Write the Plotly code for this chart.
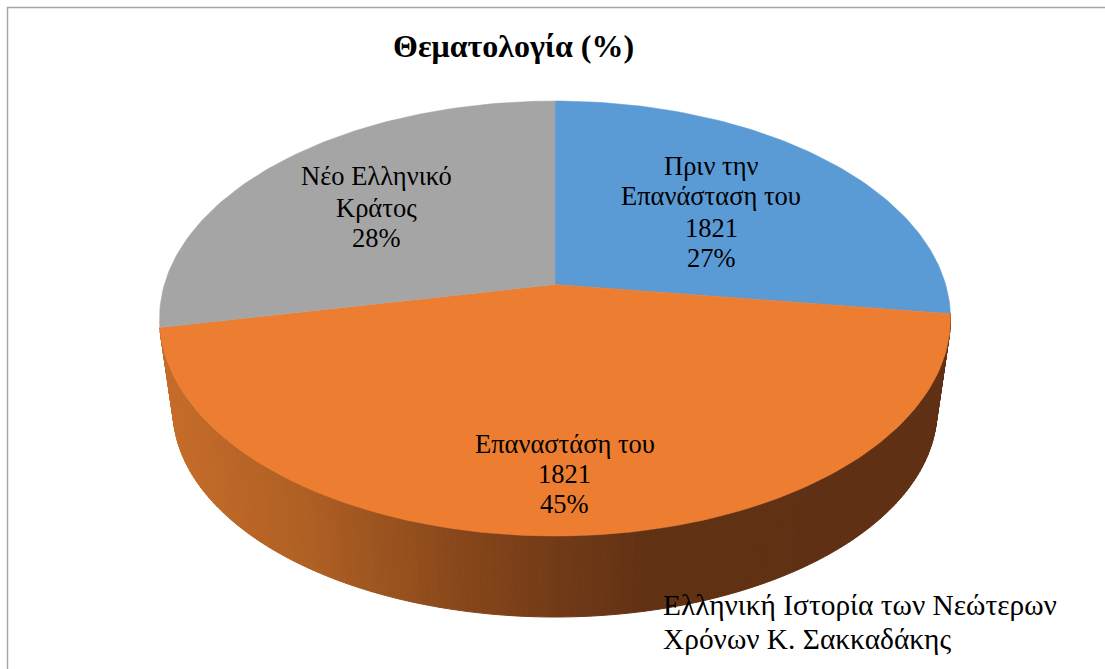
import math
import plotly.graph_objects as go

# ---- data ----
categories = [["Πριν την", "Επανάσταση του", "1821"], ["Επαναστάση του", "1821"], ["Νέο Ελληνικό", "Κράτος"]]
values = [27, 45, 28]
colors = ["#5B9BD5", "#ED7D31", "#A5A5A5"]
title_text = "Θεματολογία (%)"
note_text = ["Ελληνική Ιστορία των Νεώτερων", "Χρόνων Κ. Σακκαδάκης"]

# ---- geometry of the drawing (pixel-scaled axes) ----
W, H = 1105, 669
CX = 555
TOP = dict(cy=318.5, rx=395.5, ry=217.5)
BOT = dict(cy=410, rx=382, ry=207)
T = 0.147  # perspective shift of the pie centre
APEX_Y = 284.5


def project(share, disk):
    """Position on the disk for a cumulative share (clockwise from 12 o'clock)."""
    a = 2 * math.pi * share
    u, v = math.sin(a), math.cos(a)
    d = 1 + T * v
    return (CX + disk["rx"] * u * math.sqrt(1 - T * T) / d,
            disk["cy"] - disk["ry"] * (v + T) / d)


SIDE_STOPS = [(160, (198, 108, 42)), (300, (176, 96, 36)), (440, (140, 74, 27)),
              (555, (114, 58, 23)), (650, (97, 49, 20)), (950, (96, 48, 20))]


def side_color(x):
    for (x0, c0), (x1, c1) in zip(SIDE_STOPS, SIDE_STOPS[1:]):
        if x <= x1:
            f = max(0, (x - x0) / (x1 - x0))
            return "rgb(%d,%d,%d)" % tuple(round(a + (b - a) * f) for a, b in zip(c0, c1))
    return "rgb(96,48,20)"


fig = go.Figure()

# extruded wall of the middle slice, drawn in thin strips
start = values[0] / 100
end = (values[0] + values[1]) / 100
N = 180
for i in range(N):
    s0 = start + (end - start) * i / N
    s1 = start + (end - start) * (i + 1) / N
    a0, a1 = project(s0, TOP), project(s1, TOP)
    b0, b1 = project(s0, BOT), project(s1, BOT)
    col = side_color((a0[0] + a1[0]) / 2)
    fig.add_trace(go.Scatter(
        x=[a0[0], a1[0], b1[0], b0[0], a0[0]],
        y=[a0[1], a1[1], b1[1], b0[1], a0[1]],
        mode="lines", fill="toself", fillcolor=col,
        line=dict(color=col, width=1), hoverinfo="skip", showlegend=False))

# top faces of the slices
cum = 0
for name, val, col in zip(categories, values, colors):
    steps = max(2, val * 3)
    pts = [project((cum + val * j / steps) / 100, TOP) for j in range(steps + 1)]
    xs = [CX] + [p[0] for p in pts] + [CX]
    ys = [APEX_Y] + [p[1] for p in pts] + [APEX_Y]
    fig.add_trace(go.Scatter(x=xs, y=ys, mode="lines", fill="toself", fillcolor=col,
                             line=dict(color=col, width=0.5), name=" ".join(name),
                             hoverinfo="name", showlegend=False))
    cum += val

FONT = "Liberation Serif"
LABEL_SIZE = 26.5
label_pos = [(711, [166, 196, 228, 258]), (564.5, [444, 474, 504]), (376, [176, 208, 238])]
anns = []
for name, val, (x, ys) in zip(categories, values, label_pos):
    for line, y in zip(name + [f"{val}%"], ys):
        anns.append(dict(x=x, y=y, xref="x", yref="y", text=line, showarrow=False,
                         font=dict(family=FONT, size=LABEL_SIZE, color="#000000")))
anns.append(dict(x=513, y=46, xref="x", yref="y", text=f"<b>{title_text}</b>", showarrow=False,
                 font=dict(family=FONT, size=32, color="#000000")))
for line, y in zip(note_text, (605, 639)):
    anns.append(dict(x=661, y=y, xref="x", yref="y", text=line, showarrow=False, xanchor="left",
                     font=dict(family=FONT, size=29.4, color="#000000")))

frame = dict(type="path", path=f"M 7.5 {H} L 7.5 7.5 L {W} 7.5", xref="x", yref="y",
             line=dict(color="#A6A6A6", width=1.5))

fig.update_layout(
    width=W, height=H, margin=dict(l=0, r=0, t=0, b=0),
    paper_bgcolor="white", plot_bgcolor="white",
    xaxis=dict(range=[0, W], visible=False, fixedrange=True),
    yaxis=dict(range=[H, 0], visible=False, fixedrange=True),
    annotations=anns, shapes=[frame], showlegend=False)

fig.write_html("out.html", config={"displayModeBar": False},
               post_script="document.body.style.margin='0';document.body.style.overflow='hidden';")
